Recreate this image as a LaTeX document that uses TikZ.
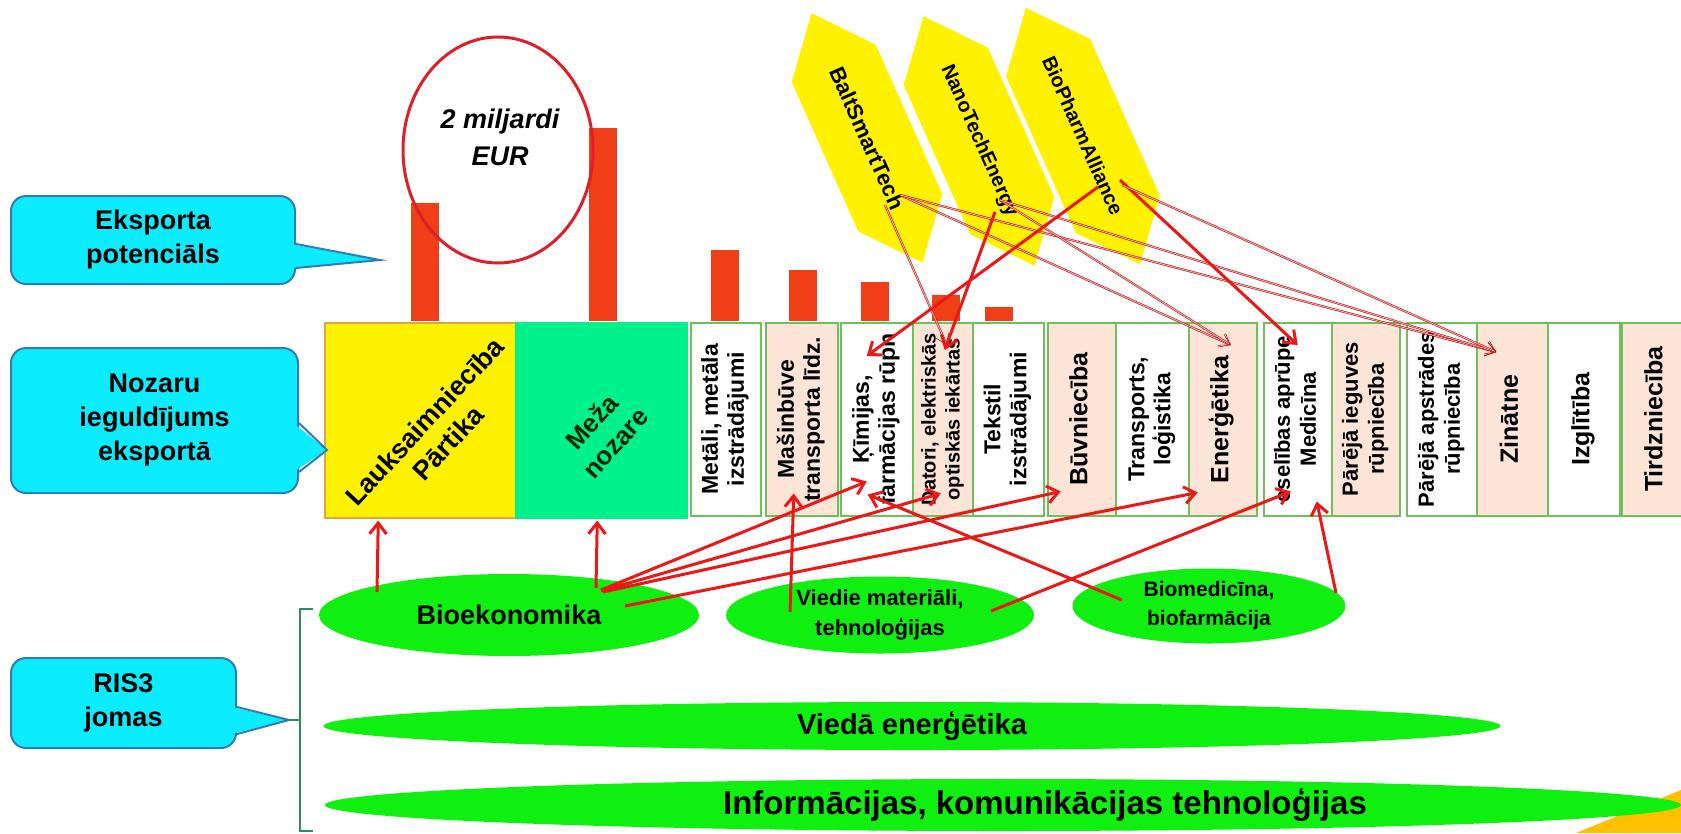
\documentclass[tikz,border=0pt]{standalone}
\usepackage{fontspec}
\setmainfont{Liberation Sans}
\usepackage{tikz}
\usetikzlibrary{arrows.meta,shapes.geometric,shapes.symbols}
\definecolor{callfill}{RGB}{12,236,255}
\definecolor{calldraw}{RGB}{45,125,190}
\definecolor{peach}{RGB}{252,229,214}
\definecolor{secgreen}{RGB}{110,192,90}
\definecolor{forestgreen}{RGB}{0,240,140}
\definecolor{agrorange}{RGB}{225,165,60}
\definecolor{risgreen}{RGB}{16,240,16}
\definecolor{barred}{RGB}{240,62,22}
\definecolor{ovalred}{RGB}{222,30,40}
\definecolor{linkred}{RGB}{236,24,24}
\definecolor{bracegreen}{RGB}{46,140,96}
\definecolor{cornergold}{RGB}{255,192,0}
\newcommand{\fsz}[2]{\fontsize{#1}{#2}\selectfont\bfseries}
\newcommand{\uptext}[1]{\rotatebox{90}{\begin{tabular}{@{}c@{}}#1\end{tabular}}}
\tikzset{
  callbox/.style={draw=calldraw,fill=callfill,line width=2pt,rounded corners=15pt,
    inner sep=0pt,align=center,font=\fsz{27}{34}},
  sector/.style={draw=secgreen,line width=1.5pt,anchor=north west,minimum height=193pt,inner sep=0pt},
  cluster/.style={signal,signal to=west and east,signal pointer angle=80,fill=yellow,
    minimum width=273pt,minimum height=92pt,inner sep=0pt,rotate=-66,font=\fsz{20}{24}},
  ris/.style={ellipse,fill=risgreen,inner sep=0pt,align=center},
  link/.style={linkred,line width=3pt,-{Straight Barb[length=11pt,width=17pt]}},
  thinlink/.style={draw=linkred!80!black,double=linkred!35,double distance=0.9pt,line width=0.6pt,
    -{Straight Barb[length=10pt,width=14pt]}}
}
\begin{document}
\begin{tikzpicture}[x=1pt,y=-1pt]
\useasboundingbox (0,0) rectangle (1681,833);
\fill[cornergold] (1576,833)--(1681,790)--(1681,833)--cycle;
% klasteri
\node[cluster,font=\fsz{22}{26}] (balt) at (867,138) {BaltSmartTech};
\node[cluster] (nano) at (979,141) {NanoTechEnergy};
\node[cluster] (bph) at (1083,136) {BioPharmAlliance};
% eksporta potenciāls
\foreach \x/\t in {411/203,589/128,711/250,789/270,861/282,932/295,985/307}
  \fill[barred] (\x,\t) rectangle (\x+28,321);
\node[draw=ovalred,line width=3pt,ellipse,minimum width=190pt,minimum height=226pt,inner sep=0pt] (eur) at (498,150) {};
\node[font=\fsz{27}{37}\itshape,align=center] (eurt) at (500,137) {2 miljardi\\EUR};
% nozares
\node[sector,draw=agrorange,fill=yellow,minimum width=191pt,minimum height=195pt] (lauk) at (324,322) {};
\node[rotate=47,align=center,font=\fsz{27}{32}] (laukt) at ([shift={(16,12)}]lauk.center) {Lauksaimniecība\\Pārtika};
\node[sector,draw=forestgreen,fill=forestgreen,minimum width=171pt,minimum height=195pt] (mez) at (515,322) {};
\node[rotate=48,align=center,font=\fsz{26}{32},text=black!85!green] (mezt) at ([shift={(2,12)}]mez.center) {Meža\\nozare};
\foreach \n/\x/\w/\cl/\f/\s/\t in {
  met/690/70/white/23/26/{Metāli, metāla\\izstrādājumi},
  mas/765/72/peach/23/26/{Mašinbūve\\transporta līdz.},
  kim/840/72/white/23/26/{Ķīmijas,\\farmācijas rūpn},
  dat/912/60/peach/20/24/{Datori, elektriskās\\optiskās iekārtas},
  tek/972/71/white/23/26/{Tekstil\\izstrādājumi},
  buv/1047/68/peach/25/28/{Būvniecība},
  tra/1115/73/white/23/26/{Transports,\\loģistika},
  ene/1188/68/peach/25/28/{Enerģētika},
  vesel/1263/68/white/22/26/{eselības aprūpe\\Medicīna},
  ieg/1331/68/peach/22/26/{Pārējā ieguves\\rūpniecība},
  aps/1406/70/white/22/26/{Pārējā apstrādes\\rūpniecība},
  zin/1476/71/peach/25/28/{Zinātne},
  izg/1547/72/white/25/28/{Izglītība},
  tir/1621/70/peach/25/28/{Tirdzniecība}}
  \node[sector,fill=\cl,minimum width=\w pt,font=\fsz{\f}{\s}] (\n) at (\x,322) {\uptext{\t}};
% RIS3 jomas
\node[ris,minimum width=380pt,minimum height=82pt,font=\fsz{27}{32}] (bio) at (509,615) {Bioekonomika};
\node[ris,minimum width=308pt,minimum height=77pt,font=\fsz{22}{30}] (vied) at (880,615) {Viedie materiāli,\\tehnoloģijas};
\node[ris,minimum width=273pt,minimum height=75pt,font=\fsz{21}{29}] (bmed) at (1209,606) {Biomedicīna,\\biofarmācija};
\node[ris,minimum width=1177pt,minimum height=48pt,font=\fsz{29}{32}] (vene) at (912,726) {Viedā enerģētika};
\node[ris,minimum width=1356pt,minimum height=52pt] (ikt) at (1003,805) {};
\node[font=\fsz{33}{36}] (iktt) at ([xshift=42pt]ikt.center) {Informācijas, komunikācijas tehnoloģijas};
% paskaidrojumi
\node[callbox,minimum width=284pt,minimum height=88pt] (eks) at (153,240) {Eksporta\\potenciāls};
\node[callbox,minimum width=287pt,minimum height=145pt] (noz) at (154.5,420.5) {Nozaru\\ieguldījums\\eksportā};
\node[callbox,minimum width=225pt,minimum height=90pt] (ris) at (123.5,703) {RIS3\\jomas};
\coordinate (ekstip) at (380,260);
\coordinate (noztip) at (327,450);
\coordinate (ristip) at (289,720);
\fill[callfill] ([shift={(-6,4)}]eks.east)--(ekstip)--([shift={(-6,28)}]eks.east)--cycle;
\draw[calldraw,line width=2pt] ([shift={(0,4)}]eks.east)--(ekstip)--([shift={(0,28)}]eks.east);
\fill[callfill] ([shift={(-6,2.5)}]noz.east)--(noztip)--([shift={(-6,51.5)}]noz.east)--cycle;
\draw[calldraw,line width=2pt] ([shift={(0,2.5)}]noz.east)--(noztip)--([shift={(0,51.5)}]noz.east);
\fill[callfill] ([shift={(-6,4)}]ris.east)--(ristip)--([shift={(-6,31)}]ris.east)--cycle;
\draw[calldraw,line width=2pt] ([shift={(0,4)}]ris.east)--(ristip)--([shift={(0,31)}]ris.east);
\draw[bracegreen,line width=2.5pt] (313,609)-|(300,831)--(313,831);
\draw[bracegreen,line width=2.5pt] (300,720)--(ristip);
% saites
\draw[link] ([shift={(-132,-23)}]bio.center)--([shift={(-42,2)}]lauk.south);
\draw[link] ([shift={(87,-27)}]bio.center)--([shift={(-4,2)}]mez.south);
\draw[link] ([shift={(92,-25)}]bio.center)--([shift={(-10,-35)}]kim.south);
\draw[link] ([shift={(92,-24)}]bio.center)--([shift={(-2,-23)}]dat.south);
\draw[link] ([shift={(94,-23)}]bio.center)--([shift={(-21,-25)}]buv.south);
\draw[link] ([shift={(116,-9)}]bio.center)--([shift={(-25,-24)}]ene.south);
\draw[link] ([shift={(-90,-3)}]vied.center)--([shift={(-8,-23)}]mas.south);
\draw[link] ([shift={(111,-4)}]vied.center)--([shift={(-7,-25)}]vesel.south);
\draw[link] ([shift={(-87,-6)}]bmed.center)--([shift={(-9,-22)}]kim.south);
\draw[link] ([shift={(127,-13)}]bmed.center)--([shift={(19,-15)}]vesel.south);
\draw[thinlink] ([shift={(18,67)}]balt.center)--([shift={(4,23)}]dat.north);
\draw[thinlink] ([shift={(33,57)}]balt.center)--([shift={(8,23)}]ene.north);
\draw[thinlink] ([shift={(33,57)}]balt.center)--([shift={(-16,30)}]zin.north);
\draw[link] ([shift={(16,71)}]nano.center)--([shift={(2,28)}]dat.north);
\draw[thinlink] ([shift={(21,59)}]nano.center)--([shift={(8,23)}]ene.north);
\draw[thinlink] ([shift={(21,59)}]nano.center)--([shift={(-16,30)}]zin.north);
\draw[link] ([shift={(15,51)}]bph.center)--([shift={(-10,34)}]kim.north);
\draw[link] ([shift={(37,44)}]bph.center)--([shift={(0,23)}]vesel.north);
\draw[thinlink] ([shift={(39,49)}]bph.center)--([shift={(-16,30)}]zin.north);
\end{tikzpicture}
\end{document}
